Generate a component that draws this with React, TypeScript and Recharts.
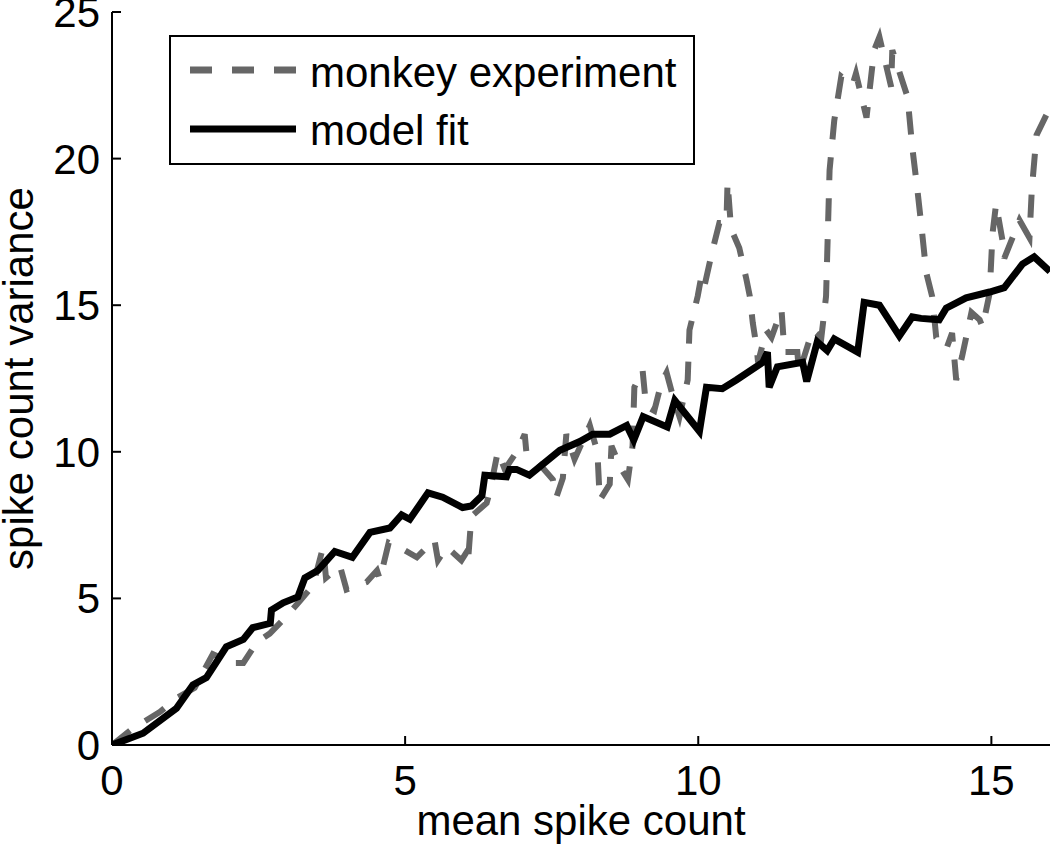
import React from 'react';
import { LineChart, Line, XAxis, YAxis, Legend } from 'recharts';

const modelX = [0, 0.53, 1.1, 1.38, 1.61, 1.95, 2.24, 2.4, 2.7, 2.72, 2.92, 3.17, 3.29, 3.51, 3.8, 4.1, 4.4, 4.74, 4.94, 5.08, 5.39, 5.64, 5.98, 6.13, 6.31, 6.36, 6.73, 6.78, 6.9, 7.12, 7.64, 7.98, 8.2, 8.49, 8.78, 8.9, 9.06, 9.47, 9.6, 10.02, 10.14, 10.41, 10.65, 11.1, 11.18, 11.21, 11.35, 11.78, 11.85, 12.03, 12.2, 12.32, 12.72, 12.83, 13.09, 13.43, 13.65, 13.8, 14.11, 14.23, 14.57, 14.97, 15.22, 15.53, 15.73, 16.0];
const modelY = [0, 0.4, 1.25, 2.05, 2.3, 3.35, 3.6, 4.0, 4.15, 4.6, 4.85, 5.05, 5.7, 5.95, 6.6, 6.4, 7.25, 7.4, 7.85, 7.7, 8.6, 8.45, 8.1, 8.15, 8.5, 9.2, 9.15, 9.4, 9.4, 9.2, 10.05, 10.35, 10.6, 10.6, 10.9, 10.4, 11.2, 10.85, 11.75, 10.7, 12.2, 12.15, 12.45, 13.05, 13.4, 12.2, 12.9, 13.05, 12.4, 13.75, 13.45, 13.85, 13.4, 15.1, 15.0, 13.95, 14.6, 14.55, 14.5, 14.9, 15.25, 15.45, 15.6, 16.4, 16.65, 16.15];

const monkeyX = [0, 0.36, 0.82, 1.1, 1.41, 1.72, 2.06, 2.24, 2.47, 2.69, 2.98, 3.2, 3.43, 3.6, 3.65, 3.89, 4.0, 4.34, 4.52, 4.57, 4.72, 4.94, 5.2, 5.3, 5.5, 5.56, 5.71, 5.85, 5.96, 6.04, 6.07, 6.13, 6.39, 6.44, 6.58, 6.7, 6.92, 7.04, 7.07, 7.26, 7.52, 7.58, 7.69, 7.75, 7.89, 8.15, 8.28, 8.32, 8.49, 8.52, 8.69, 8.8, 8.88, 8.91, 9.05, 9.11, 9.25, 9.37, 9.46, 9.56, 9.68, 9.82, 9.85, 9.99, 10.05, 10.1, 10.24, 10.36, 10.48, 10.5, 10.56, 10.7, 10.82, 10.88, 10.93, 11.0, 11.02, 11.16, 11.25, 11.42, 11.47, 11.69, 11.72, 11.95, 12.1, 12.18, 12.24, 12.32, 12.44, 12.63, 12.69, 12.87, 13.0, 13.09, 13.29, 13.31, 13.57, 13.65, 13.74, 13.82, 13.89, 13.99, 14.06, 14.23, 14.33, 14.4, 14.5, 14.66, 14.8, 14.85, 14.97, 15.02, 15.08, 15.19, 15.22, 15.36, 15.48, 15.65, 15.69, 15.77, 15.94, 16.0];
const monkeyY = [0, 0.57, 1.13, 1.6, 1.95, 3.1, 2.8, 2.8, 3.5, 3.8, 4.4, 4.9, 5.45, 6.75, 5.7, 6.1, 5.3, 5.55, 5.95, 5.65, 6.9, 6.7, 6.4, 6.6, 7.0, 6.3, 6.75, 6.5, 6.3, 6.55, 6.2, 7.8, 8.25, 8.6, 10.0, 9.4, 10.05, 10.6, 9.95, 9.65, 9.05, 8.45, 9.1, 10.6, 9.75, 10.9, 10.0, 8.35, 8.9, 10.2, 9.4, 9.05, 10.2, 12.2, 12.8, 11.55, 11.4, 12.35, 12.7, 11.95, 11.2, 12.45, 14.15, 15.3, 15.95, 15.6, 16.85, 17.8, 17.8, 19.2, 17.6, 16.95, 15.9, 15.3, 14.4, 13.5, 13.05, 14.15, 13.9, 14.85, 13.4, 13.4, 12.7, 14.15, 13.9, 15.3, 19.6, 21.3, 22.8, 22.5, 22.9, 21.4, 23.7, 24.15, 22.45, 23.7, 22.1, 20.4, 18.9, 17.45, 16.1, 15.3, 13.9, 13.5, 14.05, 12.45, 13.25, 14.75, 14.5, 14.25, 15.4, 17.45, 18.45, 17.2, 16.6, 17.3, 17.9, 17.3, 18.95, 20.8, 21.5, 20.95];

const xTicks = [0, 5, 10, 15];
const yTicks = [0, 5, 10, 15, 20, 25];
const seriesNames = ['monkey experiment', 'model fit'];
const xLabel = 'mean spike count';
const yLabel = 'spike count variance';

const modelData = modelX.map((x, i) => ({ x, y: modelY[i] }));
const monkeyData = monkeyX.map((x, i) => ({ x, y: monkeyY[i] }));

const FONT = '"Liberation Sans", Arial, Helvetica, sans-serif';
const GRAY = '#666666';

const XTick = (props: any) => {
  const { x, y, payload } = props;
  return (
    <g>
      <line x1={x} y1={y} x2={x} y2={y - 9} stroke="#000" strokeWidth={2} />
      <text x={x} y={y + 50} textAnchor="middle" fontSize={42} fontFamily={FONT} fill="#000">
        {payload.value}
      </text>
    </g>
  );
};

const YTick = (props: any) => {
  const { x, y, payload } = props;
  return (
    <g>
      <line x1={x} y1={y} x2={x + 9} y2={y} stroke="#000" strokeWidth={2} />
      <text x={x - 12} y={y + 15} textAnchor="end" fontSize={42} fontFamily={FONT} fill="#000">
        {payload.value}
      </text>
    </g>
  );
};

const XLabel = (props: any) => {
  const vb = props.viewBox || {};
  return (
    <text x={vb.x + vb.width / 2} y={vb.y + 90} textAnchor="middle" fontSize={42} fontFamily={FONT} fill="#000">
      {xLabel}
    </text>
  );
};

const YLabel = (props: any) => {
  const vb = props.viewBox || {};
  const cx = 33;
  const cy = vb.y + vb.height / 2;
  return (
    <text x={cx} y={cy} transform={`rotate(-90, ${cx}, ${cy})`} textAnchor="middle" fontSize={42} fontFamily={FONT} fill="#000">
      {yLabel}
    </text>
  );
};

const LegendBox = () => (
  <svg width={526} height={130} style={{ display: 'block' }}>
    <rect x={1} y={1} width={524} height={128} fill="#fff" stroke="#000" strokeWidth={2} />
    <line x1={21} y1={35} x2={127} y2={35} stroke={GRAY} strokeWidth={7} strokeDasharray="22 20" />
    <text x={141} y={52} fontSize={42} fontFamily={FONT} fill="#000">{seriesNames[0]}</text>
    <line x1={21} y1={94} x2={127} y2={94} stroke="#000" strokeWidth={7} />
    <text x={141} y={110} fontSize={42} fontFamily={FONT} fill="#000">{seriesNames[1]}</text>
  </svg>
);

export default function App() {
  return (
    <div style={{ position: 'absolute', left: 0, top: 0, width: 1050, height: 851, background: '#fff' }}>
      <LineChart width={1050} height={851} margin={{ top: 12, right: 0, bottom: 0, left: 0 }}>
        <XAxis
          dataKey="x"
          type="number"
          domain={[0, 16]}
          ticks={xTicks}
          allowDataOverflow
          height={106}
          tickSize={0}
          tickMargin={0}
          tickLine={false}
          axisLine={{ stroke: '#000', strokeWidth: 2 }}
          tick={<XTick />}
          label={<XLabel />}
        />
        <YAxis
          type="number"
          domain={[0, 25]}
          ticks={yTicks}
          allowDataOverflow
          width={112}
          tickSize={0}
          tickMargin={0}
          tickLine={false}
          axisLine={{ stroke: '#000', strokeWidth: 2 }}
          tick={<YTick />}
          label={<YLabel />}
        />
        <Legend
          layout="horizontal"
          verticalAlign="middle"
          align="center"
          content={<LegendBox />}
          wrapperStyle={{ position: 'absolute', left: 169, top: 35, width: 526, height: 130 }}
        />
        <Line
          data={monkeyData}
          dataKey="y"
          name={seriesNames[0]}
          type="linear"
          stroke={GRAY}
          strokeWidth={6}
          strokeDasharray="23 18"
          dot={false}
          activeDot={false}
          isAnimationActive={false}
        />
        <Line
          data={modelData}
          dataKey="y"
          name={seriesNames[1]}
          type="linear"
          stroke="#000"
          strokeWidth={7}
          dot={false}
          activeDot={false}
          isAnimationActive={false}
        />
      </LineChart>
    </div>
  );
}
